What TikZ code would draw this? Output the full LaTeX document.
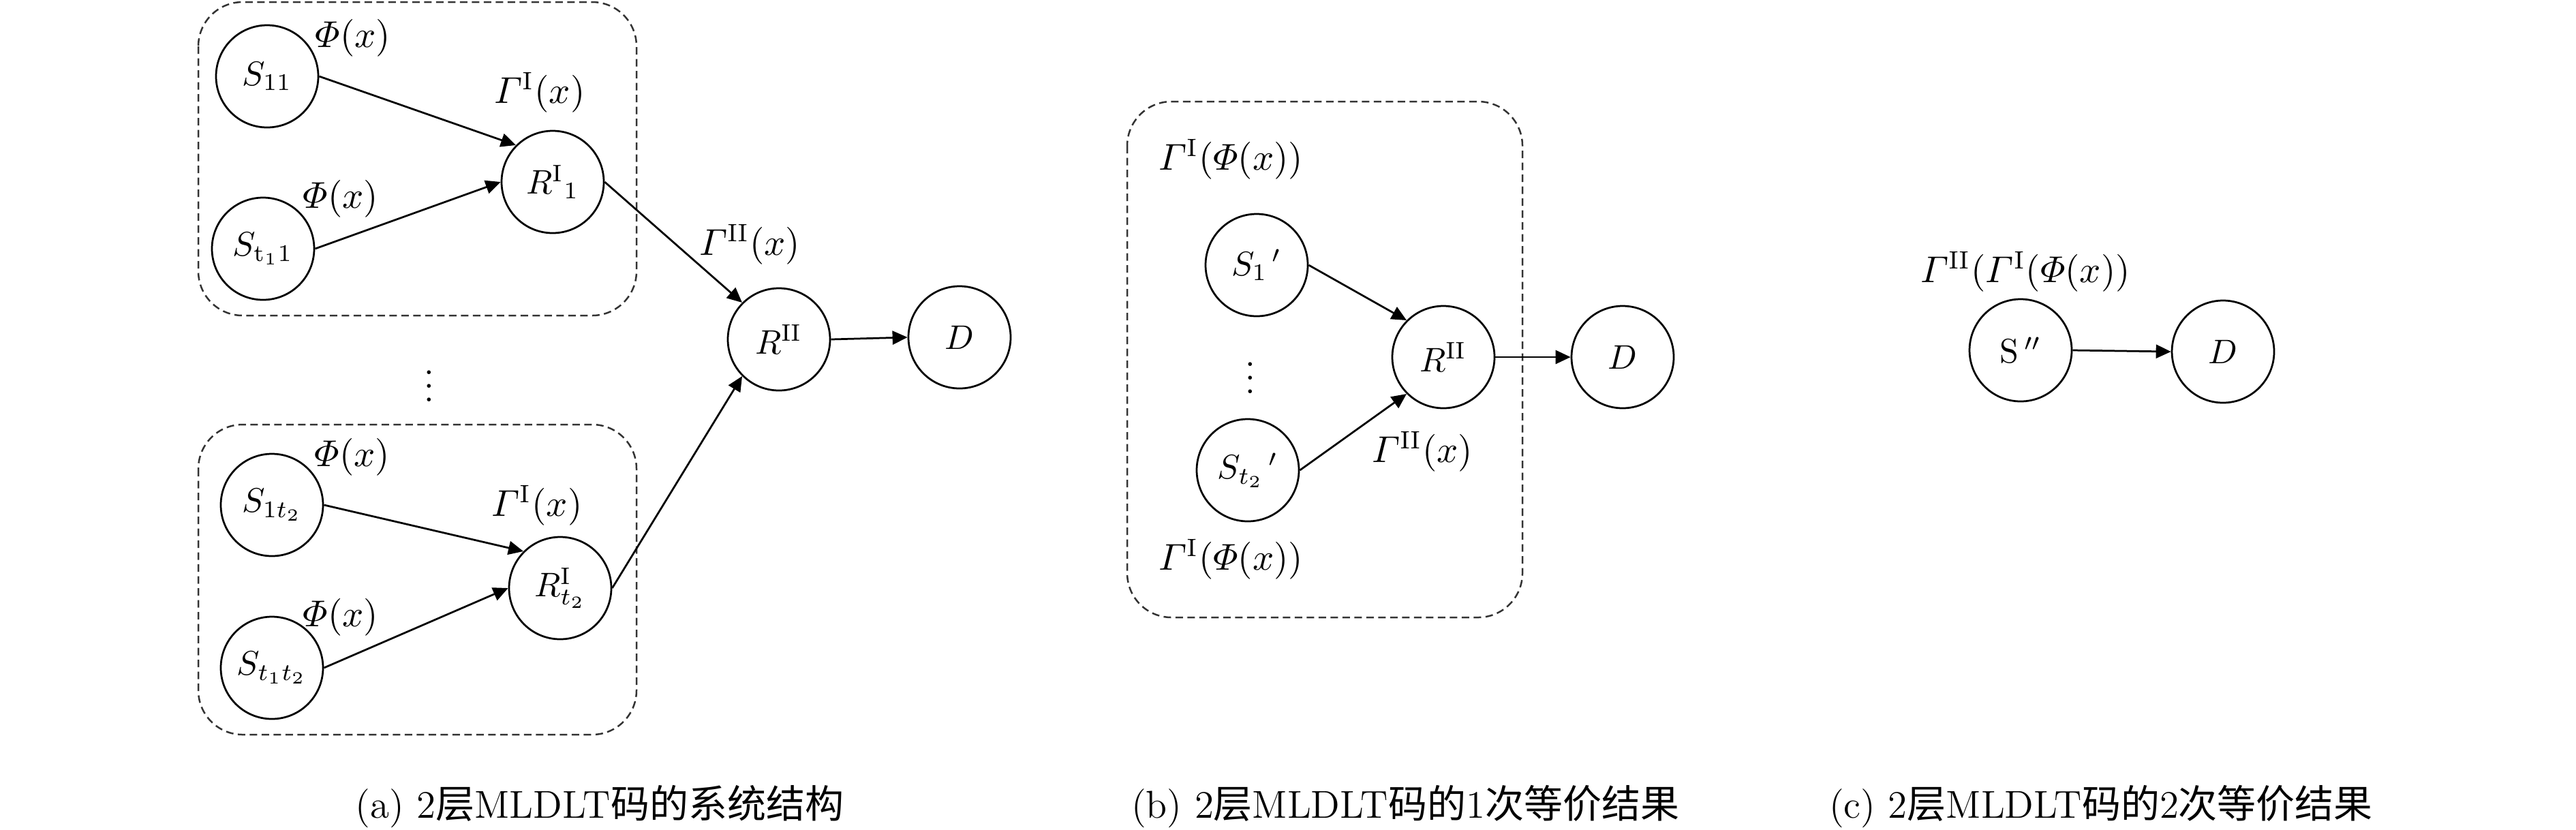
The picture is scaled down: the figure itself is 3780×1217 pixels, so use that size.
\documentclass[tikz,border=0pt]{standalone}
\usepackage{amsmath}
\usepackage{fontspec}
\newfontfamily\cjk{Noto Sans CJK SC}
\usetikzlibrary{arrows.meta}
\tikzset{
  st/.style={circle, draw, line width=0.55pt, minimum size=30pt, inner sep=0pt, font=\fontsize{10}{12}\selectfont},
  lbl/.style={inner sep=0pt, font=\fontsize{10.5}{12}\selectfont},
  captxt/.style={inner sep=0pt, font=\fontsize{11.4}{13}\selectfont},
  arr/.style={-{Triangle[length=4.4pt,width=4pt]}, line width=0.55pt},
  grp/.style={draw=black!80, dash pattern=on 2.2pt off 1.3pt, line width=0.5pt, rounded corners=13pt}
}
\begin{document}
\begin{tikzpicture}[x=0.2pt, y=-0.2pt]
\useasboundingbox (0,0) rectangle (3780,1217);
% ---------- panel (a)
\draw[grp] (291,3) rectangle (934,463);
\draw[grp] (291,623) rectangle (934,1078);
\node[st] (S11) at (392,112) {$S_{11}$};
\node[st] (St11) at (386,365) {$S_{\mathrm{t}_1 1}$};
\node[st] (R1) at (811,267) {$R^{\mathrm{I}}{}_{1}$};
\node[st] (S1t2) at (399,741) {$S_{1t_2}$};
\node[st] (St1t2) at (399,980) {$S_{t_1t_2}$};
\node[st] (Rt2) at (822,863) {$R^{\mathrm{I}}_{t_2}$};
\node[st] (RIIa) at (1143,498) {$R^{\mathrm{II}}$};
\node[st] (Da) at (1408,495) {$D$};
\node[lbl] (pa1) at (518,56) {$\varPhi(x)$};
\node[lbl] (pa2) at (500,292) {$\varPhi(x)$};
\node[lbl] (ga1) at (792,136) {$\varGamma^{\mathrm{I}}(x)$};
\node[lbl] (pa3) at (517,671) {$\varPhi(x)$};
\node[lbl] (pa4) at (500,906) {$\varPhi(x)$};
\node[lbl] (ga2) at (788,742) {$\varGamma^{\mathrm{I}}(x)$};
\node[lbl] (gIIa) at (1100,359) {$\varGamma^{\mathrm{II}}(x)$};
\node[lbl] (dota) at (630,552) {$\vdots$};
\draw[arr] (S11.east) -- (R1.north west);
\draw[arr] (St11.east) -- (R1.west);
\draw[arr] (S1t2.east) -- (Rt2.north west);
\draw[arr] (St1t2.east) -- (Rt2.west);
\draw[arr] (R1.east) -- (RIIa.north west);
\draw[arr] (Rt2.east) -- (RIIa.south west);
\draw[arr] (RIIa.east) -- (Da.west);
\node[captxt] (capa) at (880,1184) {(a) 2{\cjk 层}MLDLT{\cjk 码的系统结构}};
% ---------- panel (b)
\draw[grp] (1654,149) rectangle (2234,906);
\node[st] (S1p) at (1844,389) {$S_{1}{}^{\,\prime}$};
\node[st] (St2p) at (1831,690) {$S_{t_2}{}^{\,\prime}$};
\node[st] (RIIb) at (2118,524) {$R^{\mathrm{II}}$};
\node[st] (Db) at (2381,524) {$D$};
\node[lbl] (gb1) at (1806,234) {$\varGamma^{\mathrm{I}}(\varPhi(x))$};
\node[lbl] (gb2) at (1806,821) {$\varGamma^{\mathrm{I}}(\varPhi(x))$};
\node[lbl] (gIIb) at (2087,663) {$\varGamma^{\mathrm{II}}(x)$};
\node[lbl] (dotb) at (1835,540) {$\vdots$};
\draw[arr] (S1p.east) -- (RIIb.north west);
\draw[arr] (St2p.east) -- (RIIb.south west);
\draw[arr] (RIIb.east) -- (Db.west);
\node[captxt] (capb) at (2062,1184) {(b) 2{\cjk 层}MLDLT{\cjk 码的}1{\cjk 次等价结果}};
% ---------- panel (c)
\node[st] (Spp) at (2965,514) {$\mathrm{S}\,''$};
\node[st] (Dc) at (3262,516) {$D$};
\node[lbl] (gc) at (2972,399) {$\varGamma^{\mathrm{II}}(\varGamma^{\mathrm{I}}(\varPhi(x))$};
\draw[arr] (Spp.east) -- (Dc.west);
\node[captxt] (capc) at (3083,1184) {(c) 2{\cjk 层}MLDLT{\cjk 码的}2{\cjk 次等价结果}};
\end{tikzpicture}
\end{document}
